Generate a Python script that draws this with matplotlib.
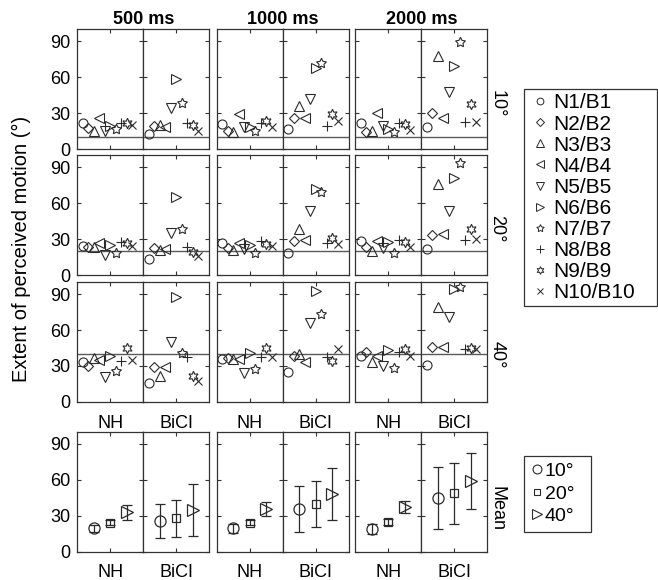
import matplotlib
matplotlib.use('Agg')
import matplotlib.pyplot as plt
from matplotlib.lines import Line2D

plt.rcParams['font.family'] = ['Liberation Sans', 'DejaVu Sans']

durations = ['500 ms', '1000 ms', '2000 ms']
angles = [10, 20, 40]
row_labels = ['10°', '20°', '40°', 'Mean']
groups = ['NH', 'BiCI']
participants = ['N1/B1', 'N2/B2', 'N3/B3', 'N4/B4', 'N5/B5',
                'N6/B6', 'N7/B7', 'N8/B8', 'N9/B9', 'N10/B10']
mean_labels = ['10°', '20°', '40°']
yticks = [0, 30, 60, 90]

# ---- individual data (extent of perceived motion, deg) ----
nh_500_10 = [21.7, 17.5, 15.3, 25.8, 15.3, 19.7, 16.7, 21.7, 22.2, 20.2]
ci_500_10 = [12.5, 19.4, 20.2, 18.6, 34.2, 58.6, 38.9, 21.7, 20.2, 15.3]
nh_500_20 = [24.7, 23.9, 23.3, 26.7, 16.9, 25.3, 18.9, 27.5, 27.2, 24.7]
ci_500_20 = [13.6, 23.1, 21.1, 21.9, 35.0, 65.5, 38.6, 23.3, 19.2, 16.1]
nh_500_40 = [33.1, 30.3, 36.4, 35.0, 20.6, 38.6, 25.8, 34.4, 45.3, 35.0]
ci_500_40 = [16.1, 28.9, 21.7, 28.9, 49.7, 87.8, 40.6, 37.2, 21.7, 17.8]

nh_1000_10 = [20.8, 15.3, 14.7, 29.2, 18.9, 18.3, 15.6, 22.2, 23.9, 18.9]
ci_1000_10 = [16.7, 26.4, 36.1, 26.4, 41.7, 68.0, 71.7, 19.7, 29.2, 23.9]
nh_1000_20 = [26.7, 22.5, 21.1, 26.7, 21.9, 25.3, 18.3, 28.9, 26.1, 24.7]
ci_1000_20 = [18.9, 28.9, 38.6, 29.4, 53.6, 71.9, 69.7, 26.7, 30.8, 25.8]
nh_1000_40 = [35.6, 36.4, 35.6, 35.6, 24.4, 40.6, 27.5, 37.2, 45.3, 37.2]
ci_1000_40 = [25.3, 38.3, 40.0, 33.1, 65.6, 92.5, 73.3, 37.8, 34.2, 44.2]

nh_2000_10 = [22.2, 14.7, 15.3, 30.0, 19.4, 16.7, 14.2, 21.7, 21.1, 16.1]
ci_2000_10 = [18.9, 30.6, 77.8, 26.4, 47.5, 69.7, 89.2, 23.1, 37.5, 23.1]
nh_2000_20 = [28.6, 23.3, 20.6, 28.9, 22.5, 28.1, 18.9, 29.4, 27.5, 23.3]
ci_2000_20 = [21.7, 33.6, 76.1, 34.2, 53.6, 80.8, 93.3, 29.4, 38.3, 30.3]
nh_2000_40 = [38.3, 41.4, 33.1, 38.6, 30.3, 43.3, 28.6, 41.9, 44.2, 38.6]
ci_2000_40 = [30.8, 45.6, 79.4, 45.6, 70.6, 94.2, 96.1, 44.2, 45.3, 44.2]

# ---- means and error bars ----
mean_nh_500 = [19.5, 24.2, 32.8]
err_nh_500 = [3.0, 2.0, 6.5]
mean_ci_500 = [25.6, 27.8, 34.7]
err_ci_500 = [14.5, 15.4, 21.5]
mean_nh_1000 = [19.5, 24.2, 35.3]
err_nh_1000 = [3.5, 2.0, 5.8]
mean_ci_1000 = [35.6, 39.5, 48.0]
err_ci_1000 = [19.5, 19.2, 21.5]
mean_nh_2000 = [18.9, 25.0, 37.0]
err_nh_2000 = [4.0, 2.5, 5.0]
mean_ci_2000 = [44.5, 48.6, 58.9]
err_ci_2000 = [25.7, 25.4, 23.2]

data = {
    0: {10: (nh_500_10, ci_500_10), 20: (nh_500_20, ci_500_20), 40: (nh_500_40, ci_500_40)},
    1: {10: (nh_1000_10, ci_1000_10), 20: (nh_1000_20, ci_1000_20), 40: (nh_1000_40, ci_1000_40)},
    2: {10: (nh_2000_10, ci_2000_10), 20: (nh_2000_20, ci_2000_20), 40: (nh_2000_40, ci_2000_40)},
}
means = {
    0: ((mean_nh_500, err_nh_500), (mean_ci_500, err_ci_500)),
    1: ((mean_nh_1000, err_nh_1000), (mean_ci_1000, err_ci_1000)),
    2: ((mean_nh_2000, err_nh_2000), (mean_ci_2000, err_ci_2000)),
}

# ---- styling ----
EC = '#2a2a2a'
SPINE = '#333333'
REF = '#5a5a5a'
markers = ['o', 'D', '^', '<', 'v', '>', (5, 1, 0), '+', (6, 1, 0), 'x']
msizes = [6.5, 5.0, 7.5, 7.5, 7.5, 7.5, 7.5, 7.0, 7.5, 6.0]
mean_markers = ['o', 's', '>']
mean_msizes = [8.0, 6.0, 9.0]
pid_x = list(range(1, 11))
mean_x = [3, 6, 9]

W, H = 658.0, 580.0
fig = plt.figure(figsize=(W / 100, H / 100), dpi=100)
col_left = [77.3, 216.5, 355.3]
half_w = 66.0
row_top = [29.3, 155.3, 282.0, 431.7]
ph = 120.0


def add_ax(x, y, w, h):
    return fig.add_axes([x / W, 1 - (y + h) / H, w / W, h / H])


def style(ax, label, show_y, show_x):
    ax.set_xlim(0, 12)
    ax.set_ylim(0, 100)
    ax.set_yticks(yticks)
    ax.set_xticks([6])
    ax.set_xticklabels([label])
    for s in ax.spines.values():
        s.set_color(SPINE)
        s.set_linewidth(0.9)
    ax.tick_params(axis='both', direction='in', length=3, width=0.8, color=SPINE,
                   top=True, right=True, labelsize=13)
    ax.tick_params(axis='y', pad=5, labelleft=show_y)
    ax.tick_params(axis='x', pad=9, labelbottom=show_x)


for c in range(3):
    for r in range(4):
        for g in range(2):
            ax = add_ax(col_left[c] + g * half_w, row_top[r], half_w, ph)
            style(ax, groups[g], show_y=(c == 0 and g == 0), show_x=(r >= 2))
            if r < 3:
                ang = angles[r]
                vals = data[c][ang][g]
                ax.axhline(ang, color=REF, lw=1.0, zorder=1)
                for i in range(10):
                    ax.plot(pid_x[i], vals[i], ls='none', marker=markers[i],
                            ms=msizes[i], mfc='none', mec=EC, mew=0.8, zorder=3)
            else:
                m, e = means[c][g]
                for k in range(3):
                    ax.errorbar(mean_x[k], m[k], yerr=e[k], marker=mean_markers[k],
                                ms=mean_msizes[k], mfc='none', mec=EC, mew=0.9,
                                ecolor=EC, elinewidth=0.9, capsize=3.5, capthick=0.9,
                                ls='none')
    fig.text((col_left[c] + half_w) / W, 1 - 20 / H, durations[c], ha='center',
             va='center', fontsize=13, fontweight='bold')

# row labels
row_label_y = [103.7, 228.3, 355.0, 509.0]
for r in range(4):
    fig.text(497 / W, 1 - row_label_y[r] / H, row_labels[r], rotation=-90,
             ha='center', va='center', fontsize=13)

fig.text(21 / W, 1 - 249.3 / H, 'Extent of perceived motion (°)', rotation=90,
         ha='center', va='center', fontsize=14.5)

# participant legend
leg_handles = [Line2D([], [], ls='none', marker=markers[i], ms=msizes[i] * 0.75,
                      mfc='none', mec=EC, mew=0.7) for i in range(10)]
leg1 = fig.legend(leg_handles, participants, loc='upper left', mode='expand',
                  bbox_to_anchor=(524.3 / W, 1 - 89.3 / H, 133.0 / W, 0.0),
                  bbox_transform=fig.transFigure,
                  fontsize=15, frameon=True, fancybox=False, edgecolor=SPINE,
                  framealpha=1, borderpad=0.2, labelspacing=0.1, handlelength=1.15,
                  handletextpad=0.05, borderaxespad=0)
leg1.get_frame().set_linewidth(0.9)

leg2_handles = [Line2D([], [], ls='none', marker=mean_markers[k], ms=mean_msizes[k] * 0.8,
                       mfc='none', mec=EC, mew=0.8) for k in range(3)]
leg2 = fig.legend(leg2_handles, mean_labels, loc='upper left', mode='expand',
                  bbox_to_anchor=(524.3 / W, 1 - 455.7 / H, 66.4 / W, 0.0),
                  bbox_transform=fig.transFigure,
                  fontsize=14, frameon=True, fancybox=False, edgecolor=SPINE,
                  framealpha=1, borderpad=0.35, labelspacing=0.25, handlelength=0.6,
                  handletextpad=0.1, borderaxespad=0)
leg2.get_frame().set_linewidth(0.9)

fig.savefig('out.png', dpi=100)
